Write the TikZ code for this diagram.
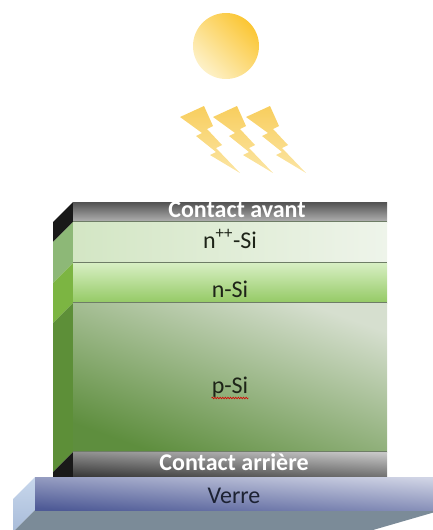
\documentclass[tikz,border=0pt]{standalone}
\usepackage{fontspec}
\setmainfont{Carlito}
\usetikzlibrary{decorations.pathmorphing}
\definecolor{sunlight}{HTML}{FDF1C8}
\definecolor{sundeep}{HTML}{FBC634}
\definecolor{boltdeep}{HTML}{F8CE5E}
\definecolor{boltlight}{HTML}{FBE5A4}
\definecolor{sideNpp}{HTML}{8DB877}
\definecolor{sideN}{HTML}{7CB542}
\definecolor{sideP}{HTML}{5D8F38}
\definecolor{seamcol}{HTML}{6E7D66}
\definecolor{glassbottom}{HTML}{7B8B98}
\definecolor{textdark}{HTML}{1E2418}
\definecolor{glasstext}{HTML}{1C2233}
\begin{document}
\begin{tikzpicture}[x=1pt,y=-1pt,
  face/.style={rectangle, inner sep=0pt, draw=none, minimum width=314pt},
  lbl/.style={inner sep=0pt, anchor=base, font=\fontsize{24}{24}\selectfont, text=textdark},
  contactlbl/.style={lbl, font=\fontsize{24}{24}\selectfont\bfseries, text=white},
  seam/.style={draw=seamcol, line width=0.9pt},
  bolt/.style={top color=boltdeep, bottom color=boltlight, draw=none}
]
\useasboundingbox (0,0) rectangle (432,530);

% sun
\node[circle, inner sep=0pt, minimum size=66pt, draw=none,
      top color=sundeep, bottom color=sunlight, shading angle=-45] (sun) at (226,46) {};

% three lightning bolts
\foreach \dx in {0,33,66}{
  \shade[bolt] (180+\dx,117) -- ++(24,-11) -- ++(9,20) -- ++(-6,3) -- ++(15,16)
    -- ++(-6,3) -- ++(24,25) -- ++(-30,-18) -- ++(6,-3) -- ++(-20,-16)
    -- ++(6,-3) -- cycle;
}

% side faces of the stack
\fill[black!90] (73,202) -- (73,222) -- (53,242) -- (53,222) -- cycle;
\fill[sideNpp] (73,222) -- (73,263) -- (53,283) -- (53,242) -- cycle;
\fill[sideN] (73,263) -- (73,303) -- (53,323) -- (53,283) -- cycle;
\fill[sideP] (73,303) -- (73,452) -- (53,472) -- (53,323) -- cycle;
\fill[black!90] (73,452) -- (73,477) -- (53,477) -- (53,472) -- cycle;

% front faces of the stack
\node[face, minimum height=20pt, top color=black!68, bottom color=black!30] (cav) at (230,212) {};
\node[face, minimum height=41pt, left color={rgb,255:red,211;green,230;blue,196}, right color={rgb,255:red,238;green,244;blue,234}] (npp) at (230,242.5) {};
\node[face, minimum height=40pt, top color={rgb,255:red,215;green,239;blue,195}, bottom color={rgb,255:red,148;green,201;blue,100}] (nsi) at (230,283) {};
\node[face, minimum height=149pt, top color={rgb,255:red,214;green,223;blue,207}, bottom color={rgb,255:red,94;green,142;blue,62}, shading angle=-20] (psi) at (230,377.5) {};
\node[face, minimum height=25pt, top color=black!22, bottom color=black!78, shading angle=-3] (car) at (230,464.5) {};

% seams between layers
\draw[seam] (npp.north west) -- (npp.north east);
\draw[seam] (nsi.north west) -- (nsi.north east);
\draw[seam] (psi.north west) -- (psi.north east);
\draw[seam] (car.north west) -- (car.north east);

% glass substrate
\shade[top color={rgb,255:red,200;green,215;blue,236}, bottom color={rgb,255:red,168;green,188;blue,217}]
  (35,477) -- (35,510) -- (13,532) -- (13,499) -- cycle;
\fill[glassbottom] (35,510) -- (442,510) -- (373,530) -- (13,532) -- cycle;
\node[rectangle, inner sep=0pt, minimum width=407pt, minimum height=33pt,
      top color={rgb,255:red,208;green,212;blue,229}, bottom color={rgb,255:red,78;green,90;blue,150},
      shading angle=-4] (glass) at (238.5,493.5) {};

% labels
\node[contactlbl] (cavtxt) at (237,217) {Contact avant};
\node[lbl] (npptxt) at (230,248) {n\textsuperscript{++}-Si};
\node[lbl] (nsitxt) at (230,297) {n-Si};
\node[lbl] (psitxt) at (230,393) {p-Si};
\node[contactlbl] (cartxt) at (234,470) {Contact arrière};
\node[lbl, text=glasstext] (glasstxt) at (234,503) {Verre};

% spelling underline
\draw[red!85!black, line width=0.6pt, decorate, decoration={snake, amplitude=0.8pt, segment length=2.6pt}]
  ([yshift=-5pt]psitxt.base west) -- ([yshift=-5pt]psitxt.base east);
\end{tikzpicture}
\end{document}
